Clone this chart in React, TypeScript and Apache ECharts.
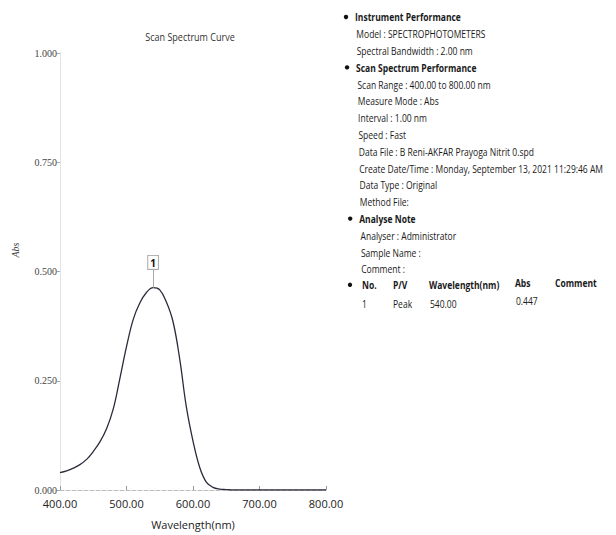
import React, { useEffect, useRef } from "react";
import * as echarts from "echarts";

// ---- data ----
const wavelengths = [
  400, 410, 420, 430, 440, 450, 460, 470, 480, 490, 500, 510, 520, 530, 540,
  550, 560, 570, 580, 590, 600, 610, 620, 630, 640, 650, 660, 680, 700, 720,
  740, 760, 780, 800,
];
const absValues = [
  0.04, 0.044, 0.05, 0.058, 0.07, 0.088, 0.11, 0.14, 0.185, 0.255, 0.328,
  0.39, 0.428, 0.452, 0.463, 0.458, 0.43, 0.385, 0.3, 0.19, 0.112, 0.052,
  0.018, 0.006, 0.002, 0.001, 0.0, 0.0, 0.0, 0.0, 0.0, 0.0, 0.0, 0.0,
];
const xTicks = [400, 500, 600, 700, 800];
const yTicks = [0, 0.25, 0.5, 0.75, 1.0];

const peakNo = "1";
const peakType = "Peak";
const peakWavelength = 540;
const peakAbs = 0.447;

const chartTitle = "Scan Spectrum Curve";
const xName = "Wavelength(nm)";
const yName = "Abs";

const infoSections = [
  {
    title: "Instrument Performance",
    items: ["Model : SPECTROPHOTOMETERS", "Spectral Bandwidth : 2.00 nm"],
  },
  {
    title: "Scan Spectrum Performance",
    items: [
      "Scan Range : 400.00 to 800.00 nm",
      "Measure Mode : Abs",
      "Interval : 1.00 nm",
      "Speed : Fast",
      "Data File : B Reni-AKFAR Prayoga Nitrit 0.spd",
      "Create Date/Time : Monday, September 13, 2021 11:29:46 AM",
      "Data Type : Original",
      "Method File:",
    ],
  },
  {
    title: "Analyse Note",
    items: ["Analyser : Administrator", "Sample Name :", "Comment :"],
  },
];
const tableHeader = ["No.", "P/V", "Wavelength(nm)", "Abs", "Comment"];
const tableRow = [peakNo, peakType, peakWavelength.toFixed(2), peakAbs.toFixed(3)];

export default function App() {
  const ref = useRef<HTMLDivElement>(null);

  useEffect(() => {
    if (!ref.current) return;
    document.body.style.margin = "0";
    const chart = echarts.init(ref.current, null, { renderer: "svg" });

    const font = "'Open Sans', 'Noto Sans', sans-serif";
    const textColor = "#1a1a1a";
    const sx = 0.775;
    const graphics: any[] = [];
    let row = 0;
    const rowY = (i: number) => 17 + i * 16.8;
    const rowX = (i: number) => 355 + i * 0.35;
    const addText = (text: string, x: number, y: number, bold: boolean) => {
      graphics.push({
        type: "text",
        x,
        y,
        scaleX: sx,
        silent: true,
        style: {
          text,
          fill: textColor,
          fontSize: 11,
          fontFamily: font,
          fontWeight: bold ? "bold" : "normal",
          verticalAlign: "middle",
        },
      });
    };
    const addBullet = (x: number, y: number) => {
      graphics.push({
        type: "circle",
        silent: true,
        shape: { cx: x, cy: y, r: 2.2 },
        style: { fill: "#111" },
      });
    };
    infoSections.forEach((sec) => {
      addBullet(rowX(row) - 9, rowY(row));
      addText(sec.title, rowX(row), rowY(row), true);
      row++;
      sec.items.forEach((it) => {
        addText(it, rowX(row) + 1, rowY(row), false);
        row++;
      });
    });
    const colX = [362, 393, 429, 515, 555];
    const headerY = rowY(row) - 1;
    addBullet(350, headerY);
    tableHeader.forEach((h, i) => addText(h, colX[i], headerY - (i >= 3 ? 2 : 0), true));
    const valY = rowY(row + 1) + 1;
    tableRow.forEach((v, i) => addText(v, colX[i] + (i >= 2 ? 1 : 0), valY - (i >= 3 ? 3 : 0), false));

    // chart title (condensed)
    graphics.push({
      type: "text",
      x: 190,
      y: 37,
      scaleX: 0.82,
      silent: true,
      style: {
        text: chartTitle,
        fill: "#333",
        fontSize: 11,
        fontFamily: font,
        align: "center",
        verticalAlign: "middle",
      },
    });

    graphics.push({
      type: "text",
      x: 15,
      y: 250,
      rotation: Math.PI / 2,
      silent: true,
      style: {
        text: yName,
        fill: "#444",
        fontSize: 10,
        fontStyle: "italic",
        fontFamily: "'Liberation Serif', serif",
        align: "center",
        verticalAlign: "middle",
      },
    });

    const peakIdx = absValues.indexOf(Math.max(...absValues));

    chart.setOption({
      animation: false,
      backgroundColor: "#fff",
      grid: { left: 60, right: 290, top: 53, bottom: 42 },
      xAxis: {
        type: "value",
        min: 400,
        max: 800,
        interval: 100,
        name: xName,
        nameLocation: "middle",
        nameGap: 29,
        nameTextStyle: { fontSize: 11, color: "#222", fontFamily: font },
        axisLine: { lineStyle: { color: "#bbb", type: "dashed", width: 1 } },
        axisTick: { show: true, inside: true, length: 4, lineStyle: { color: "#999" } },
        splitLine: { show: false },
        axisLabel: {
          formatter: (v: number) => (xTicks.includes(v) ? v.toFixed(2) : ""),
          fontSize: 11,
          color: "#222",
          margin: 8,
          fontFamily: font,
        },
      },
      yAxis: {
        type: "value",
        min: 0,
        max: 1,
        interval: 0.25,
        axisLine: { show: true, lineStyle: { color: "#ddd", type: "dotted", width: 1 } },
        axisTick: { show: true, length: 3, lineStyle: { color: "#aaa" } },
        splitLine: { show: false },
        axisLabel: {
          formatter: (v: number) => (yTicks.includes(v) ? v.toFixed(3) : ""),
          fontSize: 10,
          color: "#444",
          margin: 3,
          fontFamily: "'Liberation Serif', serif",
        },
      },
      series: [
        {
          type: "line",
          data: wavelengths.map((w, i) => [w, absValues[i]]),
          smooth: 0.4,
          showSymbol: false,
          lineStyle: { color: "#2b2b3b", width: 1.3 },
          markLine: {
            silent: true,
            symbol: "none",
            lineStyle: { color: "#aaa", type: "solid", width: 1 },
            label: {
              show: true,
              position: "end",
              formatter: peakNo,
              fontSize: 10,
              fontWeight: "bold",
              color: "#111",
              fontFamily: font,
              borderColor: "#aaa",
              borderWidth: 1,
              padding: [2, 2, 1, 2],
              backgroundColor: "#fff",
              distance: 0,
            },
            data: [
              [
                { coord: [wavelengths[peakIdx], absValues[peakIdx]] },
                { coord: [wavelengths[peakIdx], absValues[peakIdx] + 0.043] },
              ],
            ],
          },
        },
      ],
      graphic: graphics,
    });

    return () => chart.dispose();
  }, []);

  return <div ref={ref} style={{ width: 616, height: 535 }} />;
}
